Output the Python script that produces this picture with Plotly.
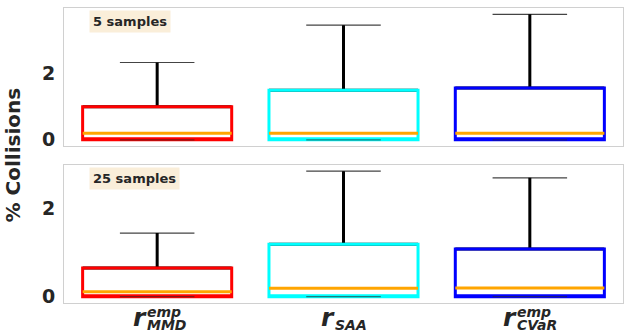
import plotly.graph_objects as go
from plotly.subplots import make_subplots

# categories and colours
methods = ["MMD", "SAA", "CVaR"]
box_colors = ["red", "cyan", "blue"]
panel_titles = ["5 samples", "25 samples"]

# 5 samples (top panel)
q1_5 = [0.0, 0.0, 0.0]
med_5 = [0.2, 0.2, 0.2]
q3_5 = [1.0, 1.5, 1.57]
lo_5 = [0.0, 0.0, 0.0]
hi_5 = [2.34, 3.47, 3.8]

# 25 samples (bottom panel)
q1_25 = [0.0, 0.0, 0.0]
med_25 = [0.11, 0.19, 0.2]
q3_25 = [0.65, 1.19, 1.08]
lo_25 = [0.0, 0.0, 0.0]
hi_25 = [1.44, 2.84, 2.69]

# tick label pieces: main letter, superscript, subscript
sup_text = ["emp", "", "emp"]
sub_text = ["MMD", "SAA", "CVaR"]

TXT = "#262626"
FONT = "DejaVu Sans"

fig = make_subplots(rows=2, cols=1, vertical_spacing=0.064, shared_xaxes=False)

panels = [(q1_5, med_5, q3_5, lo_5, hi_5), (q1_25, med_25, q3_25, lo_25, hi_25)]

for row, (q1, med, q3, lo, hi) in enumerate(panels, start=1):
    for i, m in enumerate(methods):
        common = dict(x=[m], width=0.8, showlegend=False, fillcolor="rgba(0,0,0,0)",
                      hoverinfo="skip")
        # whisker caps: thin grey
        fig.add_trace(go.Box(q1=[q1[i]], median=[q1[i]], q3=[q3[i]],
                             lowerfence=[lo[i]], upperfence=[hi[i]],
                             line=dict(color="#444444", width=1.2), whiskerwidth=0.5,
                             **common), row=row, col=1)
        # thick black upper whisker stem (box collapsed onto q3)
        fig.add_trace(go.Box(q1=[q3[i]], median=[q3[i]], q3=[q3[i]],
                             lowerfence=[q3[i]], upperfence=[hi[i]],
                             line=dict(color="black", width=3), whiskerwidth=0,
                             **common), row=row, col=1)
        # coloured box
        fig.add_trace(go.Box(q1=[q1[i]], median=[q1[i]], q3=[q3[i]],
                             lowerfence=[q1[i]], upperfence=[q3[i]],
                             line=dict(color=box_colors[i], width=3), whiskerwidth=0,
                             **common), row=row, col=1)
        # orange median
        fig.add_trace(go.Box(q1=[med[i]], median=[med[i]], q3=[med[i]],
                             lowerfence=[med[i]], upperfence=[med[i]],
                             line=dict(color="orange", width=3), whiskerwidth=0,
                             **common), row=row, col=1)
        # lower cap drawn over the box edge
        fig.add_trace(go.Box(q1=[lo[i]], median=[lo[i]], q3=[lo[i]],
                             lowerfence=[lo[i]], upperfence=[lo[i]],
                             line=dict(color="rgba(40,40,40,0.6)", width=1.2), whiskerwidth=0,
                             **{**common, "width": 0.4}), row=row, col=1)

    top = max(hi)
    fig.update_yaxes(range=[-0.05 * top, 1.05 * top], row=row, col=1)

fig.update_layout(
    width=640, height=334,
    margin=dict(l=64, r=17, t=8, b=31),
    plot_bgcolor="white", paper_bgcolor="white",
    boxmode="overlay",
    font=dict(family=FONT, color=TXT),
)

fig.update_xaxes(range=[-0.5, 2.5], showticklabels=False, ticks="", showgrid=False,
                 showline=True, mirror=True, linecolor="#d0d0d0", linewidth=1,
                 zeroline=False)
fig.update_yaxes(tickvals=[0, 2], ticks="", showgrid=False, zeroline=False,
                 showline=True, mirror=True, linecolor="#d0d0d0", linewidth=1,
                 tickfont=dict(size=19, family=FONT, weight="bold", color=TXT),
                 ticklabelstandoff=4)

# panel tags
for k, (title, yref) in enumerate(zip(panel_titles, ["y domain", "y2 domain"])):
    fig.add_annotation(text=title, xref="x domain" if k == 0 else "x2 domain", yref=yref,
                       x=0.045, y=0.905, xanchor="left", yanchor="middle", showarrow=False,
                       bgcolor="#faeed9", borderpad=3,
                       font=dict(size=13, family=FONT, weight="bold", color=TXT))

# y title
fig.add_annotation(text="% Collisions", xref="paper", yref="paper", x=0, y=0.5,
                   xanchor="center", yanchor="middle", textangle=-90, showarrow=False,
                   xshift=-52,
                   font=dict(size=20, family=FONT, weight="bold", color=TXT))

# x tick labels built from r + sup/sub
r_shift = [-17, -16, -20]
for i, m in enumerate(methods):
    fig.add_annotation(text="r", xref="x2", yref="paper", x=m, y=0, yanchor="top",
                       xanchor="center", xshift=r_shift[i], yshift=2, showarrow=False,
                       font=dict(size=25, family=FONT, weight="bold", style="italic", color=TXT))
    if sup_text[i]:
        fig.add_annotation(text=sup_text[i], xref="x2", yref="paper", x=m, y=0,
                           yanchor="top", xanchor="left", xshift=r_shift[i] + 5, yshift=1,
                           showarrow=False,
                           font=dict(size=14, family=FONT, weight="bold", style="italic", color=TXT))
    fig.add_annotation(text=sub_text[i], xref="x2", yref="paper", x=m, y=0,
                       yanchor="top", xanchor="left", xshift=r_shift[i] + 5, yshift=-12,
                       showarrow=False,
                       font=dict(size=14, family=FONT, weight="bold", style="italic", color=TXT))

fig.write_html("out.html", config={"displayModeBar": False},
               post_script="document.body.style.margin='0';")
